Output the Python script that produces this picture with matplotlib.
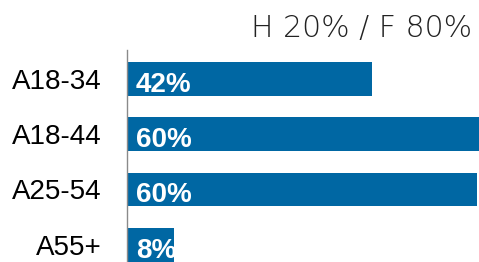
import matplotlib.pyplot as plt

categories = ['A18-34', 'A18-44', 'A25-54', 'A55+']
values = [42, 60.4, 60, 8]
bar_labels = ['42%', '60%', '60%', '8%']
title = 'H 20% / F 80%'

W, H = 479, 262
fig = plt.figure(figsize=(W / 100, H / 100), dpi=100)
# axes placed in pixel terms: left edge at x=127, top at y=50
ax = fig.add_axes([127 / W, 0, 1 - 127 / W, 212 / H])

ypos = list(range(len(categories)))
ax.barh(ypos, values, height=0.61, color='#0067a3')
ax.set_xlim(0, 60.34)
ax.set_ylim(3.31, -0.52)

for y, lab in zip(ypos, bar_labels):
    ax.annotate(lab, (0, y), xytext=(9, -3), textcoords='offset pixels',
                ha='left', va='center_baseline', color='white',
                fontsize=20, fontweight='bold', family='Liberation Sans')

ax.set_yticks(ypos)
ax.set_yticklabels(categories, family='Liberation Sans', fontsize=20,
                   va='center_baseline')
ax.tick_params(axis='y', length=0, pad=18)
ax.set_xticks([])
for s in ['top', 'right', 'bottom']:
    ax.spines[s].set_visible(False)
ax.spines['left'].set_color('#8a8a8a')
ax.spines['left'].set_linewidth(1)

fig.text(472 / W, 1 - 37.5 / H, title, ha='right', va='baseline',
         fontsize=21.5, family='DejaVu Sans', fontweight='ultralight',
         color='#222222')

fig.savefig('out.png', dpi=100)
